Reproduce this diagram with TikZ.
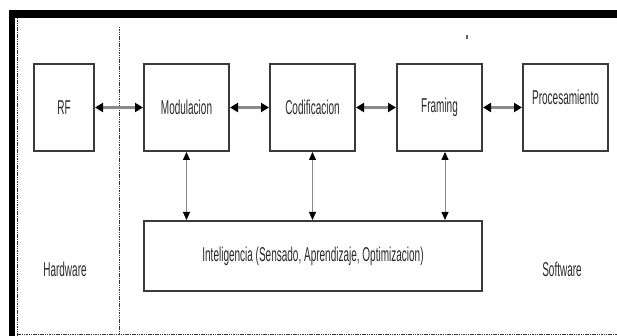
\documentclass[tikz,border=0pt]{standalone}
\usepackage{fontspec}
\newfontfamily\narrowfont[FakeStretch=0.5]{Liberation Sans}
\usetikzlibrary{arrows.meta}
\definecolor{boxline}{HTML}{3A3A3A}
\definecolor{txt}{HTML}{2A2A2A}
\definecolor{conn}{HTML}{8A8A8A}
\tikzset{
  blk/.style={draw=boxline, line width=2pt, fill=white, inner sep=0pt,
    font=\narrowfont\fontsize{20}{22}\selectfont, text=txt},
  lbl/.style={inner sep=0pt, font=\narrowfont\fontsize{20}{22}\selectfont, text=txt},
  hconn/.style={draw=conn, line width=2.6pt,
    {Triangle[length=8pt,width=9pt,color=black]}-{Triangle[length=8pt,width=9pt,color=black]}},
  vconn/.style={draw=conn, line width=1pt,
    {Triangle[length=8pt,width=7pt,color=black]}-{Triangle[length=8pt,width=7pt,color=black]}},
  sep/.style={draw=black!80, line width=0.9pt, dash pattern=on 1.5pt off 0.8pt},
}
\begin{document}
\begin{tikzpicture}[x=1pt,y=-1pt]
\useasboundingbox (0,0) rectangle (617,336);
% frame
\fill[black] (9,10) rectangle (617,18);
\fill[black] (9,10) rectangle (15,336);
\draw[sep] (17,18) -- (17,336);
\draw[sep] (17,334) -- (617,334);
\draw[sep] (119,27) -- (119,334);
\draw[conn!70!black, line width=1.5pt] (467,35) -- (467,39);
% blocks
\node[blk, minimum width=60, minimum height=87] (rf) at (64,107.5) {RF};
\node[blk, minimum width=85, minimum height=87] (mod) at (186.5,107.5) {Modulacion};
\node[blk, minimum width=85, minimum height=87] (cod) at (312.5,107.5) {Codificacion};
\node[blk, minimum width=85, minimum height=87] (fr) at (439.5,107.5) {Framing};
\node[blk, minimum width=85, minimum height=87] (proc) at (565.5,107.5) {};
\node[lbl] (proct) at (565.5,97) {Procesamiento};
\node[blk, minimum width=338, minimum height=70] (intel) at (313,256) {Inteligencia (Sensado, Aprendizaje, Optimizacion)};
\node[lbl] (hw) at (65,269) {Hardware};
\node[lbl] (sw) at (562,269) {Software};
% connectors
\draw[hconn] (rf.east) -- (mod.west);
\draw[hconn] (mod.east) -- (cod.west);
\draw[hconn] (cod.east) -- (fr.west);
\draw[hconn] (fr.east) -- (proc.west);
\draw[vconn] (mod.south) -- (mod.south |- intel.north);
\draw[vconn] (cod.south) -- (cod.south |- intel.north);
\draw[vconn] ([xshift=5.5pt]fr.south) -- ([xshift=5.5pt]fr.south |- intel.north);
\end{tikzpicture}
\end{document}
